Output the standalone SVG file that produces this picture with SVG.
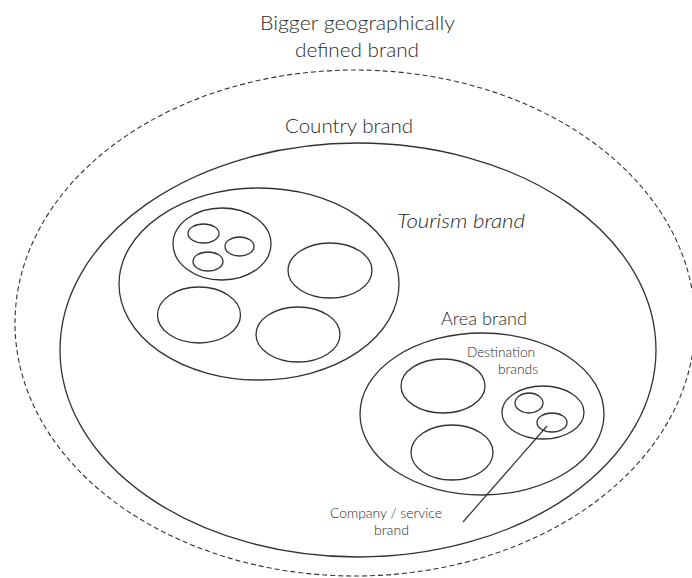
<svg xmlns="http://www.w3.org/2000/svg" width="692" height="578" viewBox="0 0 692 578">
<style>
.e{fill:none;stroke:#333;stroke-width:1.3}
.d{fill:none;stroke:#333;stroke-width:1.1;stroke-dasharray:5 3}
.t{font-family:Lato,"Liberation Sans",sans-serif;font-weight:300;fill:#2a2a2a}
</style>
<rect width="692" height="578" fill="#fff"/>
<g id="geo-brand">
<ellipse class="d" cx="355" cy="323" rx="340" ry="253"/>
<text class="t" x="260" y="30" font-size="20" textLength="195" lengthAdjust="spacingAndGlyphs">Bigger geographically</text>
<text class="t" x="295" y="57" font-size="20" textLength="124" lengthAdjust="spacingAndGlyphs">defined brand</text>
</g>
<g id="country-brand">
<ellipse class="e" cx="358" cy="350" rx="298" ry="207"/>
<text class="t" x="285" y="133" font-size="20" textLength="128" lengthAdjust="spacingAndGlyphs">Country brand</text>
</g>
<g id="tourism-brand">
<ellipse class="e" cx="259" cy="284" rx="140" ry="96"/>
<text class="t" x="397" y="228" font-size="20" font-style="italic" textLength="128" lengthAdjust="spacingAndGlyphs">Tourism brand</text>
</g>
<g id="tourism-group">
<ellipse class="e" cx="222" cy="244" rx="49" ry="36"/>
<ellipse class="e" cx="203.5" cy="233.5" rx="15.5" ry="9.5"/>
<ellipse class="e" cx="239.5" cy="246.5" rx="14.5" ry="9.5"/>
<ellipse class="e" cx="208" cy="261.5" rx="15" ry="9.5"/>
</g>
<g id="tourism-b"><ellipse class="e" cx="330" cy="270.5" rx="42" ry="27.5"/></g>
<g id="tourism-c"><ellipse class="e" cx="199" cy="315" rx="41.5" ry="28"/></g>
<g id="tourism-d"><ellipse class="e" cx="298" cy="334.5" rx="42" ry="27.5"/></g>
<g id="area-brand">
<ellipse class="e" cx="482" cy="414" rx="122" ry="81"/>
<text class="t" x="441" y="325" font-size="18" textLength="86" lengthAdjust="spacingAndGlyphs">Area brand</text>
</g>
<g id="area-a"><ellipse class="e" cx="443" cy="386" rx="42" ry="27"/></g>
<g id="area-b"><ellipse class="e" cx="452" cy="452.5" rx="41" ry="27.5"/></g>
<g id="destination-brands">
<ellipse class="e" cx="543" cy="412.5" rx="41" ry="26.5"/>
<ellipse class="e" cx="529" cy="403" rx="14" ry="10"/>
<text class="t" x="467" y="357" font-size="14" textLength="68" lengthAdjust="spacingAndGlyphs">Destination</text>
<text class="t" x="498" y="374" font-size="14" textLength="40" lengthAdjust="spacingAndGlyphs">brands</text>
</g>
<g id="company-brand">
<ellipse class="e" cx="552" cy="422.5" rx="15" ry="9.5"/>
<text class="t" x="330" y="518" font-size="14" textLength="112" lengthAdjust="spacingAndGlyphs">Company / service</text>
<text class="t" x="374" y="535" font-size="14" textLength="35" lengthAdjust="spacingAndGlyphs">brand</text>
</g>
<g id="connectors">
<line x1="547" y1="426" x2="463" y2="522" stroke="#333" stroke-width="1.2"/>
</g>
</svg>
